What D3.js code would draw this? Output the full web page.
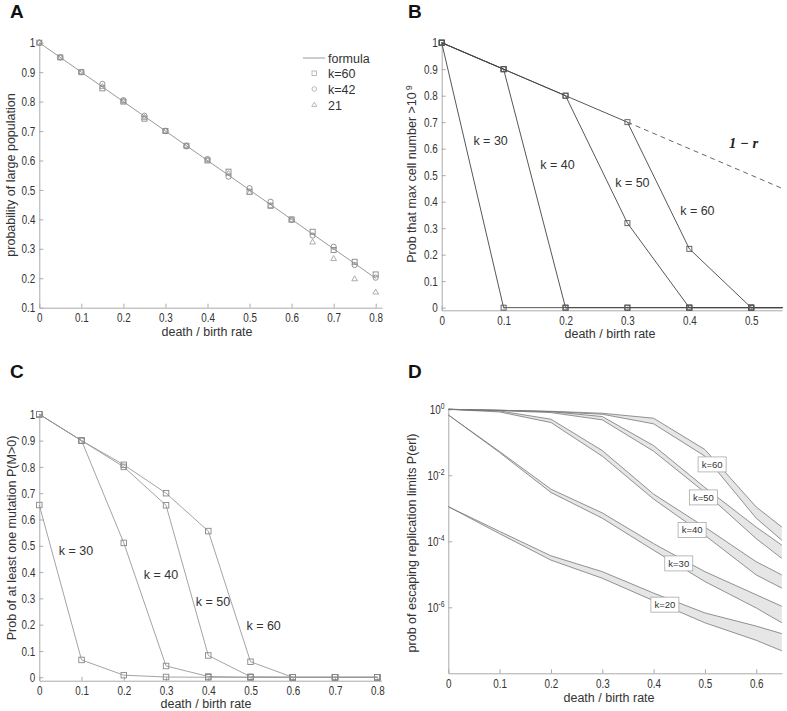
<!DOCTYPE html>
<html>
<head>
<meta charset="utf-8">
<script src="https://cdn.jsdelivr.net/npm/d3@7"></script>
<style>
body { margin: 0; background: #fff; }
svg text { font-family: "Liberation Sans", Arial, sans-serif; fill: #333; }
.axis path, .axis line { stroke: #aaa; }
.axis text { font-size: 13px; fill: #333; transform-box: fill-box; transform: scaleX(0.76); }
.xaxis text { transform-origin: 50% 50%; }
.yaxis text { transform-origin: 100% 50%; }
</style>
</head>
<body>
<div id="chart"></div>
<script>
// ---------- data ----------
// A: probability of large population vs death/birth rate
var rA = [0, 0.05, 0.1, 0.15, 0.2, 0.25, 0.3, 0.35, 0.4, 0.45, 0.5, 0.55, 0.6, 0.65, 0.7, 0.75, 0.8];
var formulaR = [0, 0.8];
var formulaP = [1, 0.2];
var k60A = [1, 0.95, 0.9, 0.845, 0.8, 0.742, 0.7, 0.65, 0.6, 0.562, 0.494, 0.446, 0.4, 0.358, 0.296, 0.256, 0.213];
var k42A = [1, 0.95, 0.9, 0.86, 0.805, 0.752, 0.7, 0.648, 0.605, 0.545, 0.506, 0.46, 0.398, 0.345, 0.307, 0.245, 0.202];
var k21A = [1, 0.95, 0.9, 0.85, 0.8, 0.745, 0.7, 0.65, 0.6, 0.555, 0.49, 0.446, 0.396, 0.322, 0.266, 0.197, 0.152];
var legendA = ["formula", "k=60", "k=42", "21"];

// B: prob that max cell number > 10^9
var rB = [0, 0.1, 0.2, 0.3, 0.4, 0.5, 0.6];
var seriesB = {
  "k = 30": [1, 0, 0, 0, 0, 0, 0],
  "k = 40": [1, 0.9, 0, 0, 0, 0, 0],
  "k = 50": [1, 0.9, 0.8, 0.319, 0, 0, 0],
  "k = 60": [1, 0.9, 0.8, 0.7, 0.222, 0, 0]
};
var formulaRB = [0.3, 0.55];
var formulaPB = [0.7, 0.45];
var labelsB = [["k = 30", 0.079, 0.629], ["k = 40", 0.187, 0.538], ["k = 50", 0.308, 0.471], ["k = 60", 0.413, 0.366]];

// C: prob of at least one mutation
var rC = [0, 0.1, 0.2, 0.3, 0.4, 0.5, 0.6, 0.7, 0.8];
var seriesC = {
  "k = 30": [0.655, 0.066, 0.008, 0.001, 0, 0, 0, 0, 0],
  "k = 40": [1, 0.9, 0.511, 0.043, 0.003, 0, 0, 0, 0],
  "k = 50": [1, 0.9, 0.8, 0.654, 0.083, 0.002, 0, 0, 0],
  "k = 60": [1, 0.9, 0.808, 0.7, 0.556, 0.059, 0, 0, 0]
};
var labelsC = [["k = 30", 0.087, 0.481], ["k = 40", 0.288, 0.389], ["k = 50", 0.411, 0.286], ["k = 60", 0.531, 0.196]];

// D: prob of escaping replication limits (log10 of upper / lower band edges)
var rD = [0, 0.1, 0.2, 0.3, 0.4, 0.5, 0.6, 0.65];
var bandsD = [
  {k: "k=60", hi: [0, -0.03, -0.06, -0.12, -0.27, -1.22, -2.96, -3.57], lo: [0, -0.03, -0.07, -0.15, -0.44, -1.42, -3.3, -3.97], at: [0.514, -1.67]},
  {k: "k=50", hi: [0, -0.03, -0.07, -0.22, -1.10, -2.37, -3.57, -4.12], lo: [0, -0.04, -0.1, -0.32, -1.27, -2.52, -3.92, -4.52], at: [0.497, -2.67]},
  {k: "k=40", hi: [0, -0.05, -0.30, -1.25, -2.57, -3.57, -4.62, -5.02], lo: [0, -0.08, -0.40, -1.42, -2.72, -3.82, -5.02, -5.42], at: [0.475, -3.66]},
  {k: "k=30", hi: [-0.17, -1.28, -2.42, -3.14, -4.07, -4.92, -5.62, -5.97], lo: [-0.17, -1.31, -2.52, -3.30, -4.27, -5.22, -6.02, -6.47], at: [0.449, -4.67]},
  {k: "k=20", hi: [-2.95, -3.70, -4.44, -4.92, -5.57, -6.17, -6.57, -6.80], lo: [-2.95, -3.77, -4.57, -5.12, -5.80, -6.47, -7.00, -7.32], at: [0.422, -5.92]}
];

var xTicks8 = [0, 0.1, 0.2, 0.3, 0.4, 0.5, 0.6, 0.7, 0.8];
var yTicksA = [0.1, 0.2, 0.3, 0.4, 0.5, 0.6, 0.7, 0.8, 0.9, 1];
var yTicks01 = [0, 0.1, 0.2, 0.3, 0.4, 0.5, 0.6, 0.7, 0.8, 0.9, 1];
var xTicksB = [0, 0.1, 0.2, 0.3, 0.4, 0.5];
var xTicksD = [0, 0.1, 0.2, 0.3, 0.4, 0.5, 0.6];
var yTicksD = [1, 1e-2, 1e-4, 1e-6];

// ---------- svg ----------
var svg = d3.select("#chart").append("svg")
  .attr("width", 787)
  .attr("height", 711);

var fmt = d => String(+d.toFixed(2));

function drawAxes(x, y, xt, yt, yf) {
  var y0 = y.range()[0], x0 = x.range()[0];
  svg.append("g")
    .attr("class", "axis xaxis")
    .attr("transform", `translate(0, ${y0})`)
    .call(d3.axisBottom(x).tickValues(xt).tickFormat(fmt).tickSizeInner(-4).tickSizeOuter(0).tickPadding(5));
  var ya = svg.append("g")
    .attr("class", "axis yaxis")
    .attr("transform", `translate(${x0}, 0)`)
    .call(d3.axisLeft(y).tickValues(yt).tickFormat(yf || fmt).tickSizeInner(-4).tickSizeOuter(0).tickPadding(4));
  return ya;
}

function title(t, x, y) {
  svg.append("text").attr("x", x).attr("y", y)
    .style("font-size", "19px").style("font-weight", "bold").style("fill", "#111")
    .text(t);
}

function xLabel(t, x, y) {
  svg.append("text").attr("x", x).attr("y", y)
    .attr("text-anchor", "middle").style("font-size", "12.5px")
    .text(t);
}

function yLabel(t, x, y) {
  return svg.append("text")
    .attr("transform", `translate(${x}, ${y}) rotate(-90)`)
    .attr("text-anchor", "middle").style("font-size", "12.5px")
    .text(t);
}

function squares(g, x, y, xs, ys, color, size) {
  g.selectAll(null)
    .data(xs.map((r, i) => [r, ys[i]]))
    .enter()
    .append("rect")
    .attr("x", d => x(d[0]) - size / 2)
    .attr("y", d => y(d[1]) - size / 2)
    .attr("width", size)
    .attr("height", size)
    .attr("fill", "none")
    .attr("stroke", color)
    .attr("stroke-width", 0.9);
}

// ---------- Panel A ----------
var xA = d3.scaleLinear().domain([0, 0.815]).range([39.3, 382]);
var yA = d3.scaleLinear().domain([0.1, 1]).range([307.7, 42.7]);
drawAxes(xA, yA, xTicks8, yTicksA);

var gA = svg.append("g");
gA.append("path")
  .datum(formulaR.map((r, i) => [r, formulaP[i]]))
  .attr("d", d3.line().x(d => xA(d[0])).y(d => yA(d[1])))
  .attr("fill", "none").attr("stroke", "#999").attr("stroke-width", 1);

squares(gA, xA, yA, rA, k60A, "#888", 5);
gA.selectAll(null)
  .data(rA.map((r, i) => [r, k42A[i]]))
  .enter().append("circle")
  .attr("cx", d => xA(d[0])).attr("cy", d => yA(d[1])).attr("r", 2.6)
  .attr("fill", "none").attr("stroke", "#888").attr("stroke-width", 0.9);
var tri = d3.symbol().type(d3.symbolTriangle).size(14);
gA.selectAll(null)
  .data(rA.map((r, i) => [r, k21A[i]]))
  .enter().append("path")
  .attr("d", tri)
  .attr("transform", d => `translate(${xA(d[0])}, ${yA(d[1])})`)
  .attr("fill", "none").attr("stroke", "#999").attr("stroke-width", 0.8);

// legend
var leg = svg.append("g").attr("transform", "translate(303, 58)");
leg.append("line").attr("x1", 0).attr("x2", 22).attr("y1", 0).attr("y2", 0).attr("stroke", "#999");
leg.append("rect").attr("x", 9).attr("y", 13).attr("width", 4.5).attr("height", 4.5).attr("fill", "none").attr("stroke", "#aaa").attr("stroke-width", 0.8);
leg.append("circle").attr("cx", 11.3).attr("cy", 31).attr("r", 2.3).attr("fill", "none").attr("stroke", "#aaa").attr("stroke-width", 0.8);
leg.append("path").attr("d", d3.symbol().type(d3.symbolTriangle).size(11)).attr("transform", "translate(11.3, 47)").attr("fill", "none").attr("stroke", "#aaa").attr("stroke-width", 0.8);
leg.selectAll(null).data(legendA).enter().append("text")
  .attr("x", 25).attr("y", (d, i) => i * 15.7 + 4.5)
  .style("font-size", "12.5px")
  .text(d => d);

title("A", 10, 18);
xLabel("death / birth rate", 207, 336);
yLabel("probability of large population", 15, 175);

// ---------- Panel B ----------
var xB = d3.scaleLinear().domain([0, 0.55]).range([441.7, 782.2]);
var yB = d3.scaleLinear().domain([-0.01, 1]).range([310.3, 42.7]);
drawAxes(xB, yB, xTicksB, yTicks01);

svg.append("clipPath").attr("id", "clipB").append("rect")
  .attr("x", 438).attr("y", 36).attr("width", 344.5).attr("height", 280);
var gB = svg.append("g").attr("clip-path", "url(#clipB)");
var lineB = d3.line().x(d => xB(d[0])).y(d => yB(d[1]));
Object.keys(seriesB).forEach(function(k) {
  var pts = rB.map((r, i) => [r, seriesB[k][i]]);
  gB.append("path").datum(pts).attr("d", lineB)
    .attr("fill", "none").attr("stroke", "#444").attr("stroke-width", 0.9);
  squares(gB, xB, yB, rB.filter(r => r <= 0.5), seriesB[k], "#555", 5);
});
gB.append("path")
  .datum(formulaRB.map((r, i) => [r, formulaPB[i]]))
  .attr("d", lineB)
  .attr("fill", "none").attr("stroke", "#555").attr("stroke-width", 0.9).attr("stroke-dasharray", "5,4");

svg.selectAll(null).data(labelsB).enter().append("text")
  .attr("x", d => xB(d[1])).attr("y", d => yB(d[2]))
  .attr("dy", "0.35em").attr("text-anchor", "middle")
  .style("font-size", "12.5px")
  .text(d => d[0]);
svg.append("text")
  .attr("x", xB(0.4876)).attr("y", yB(0.623)).attr("dy", "0.35em")
  .attr("text-anchor", "middle")
  .style("font-family", "'Liberation Serif', 'Times New Roman', serif")
  .style("font-size", "14.5px").style("font-weight", "bold").style("font-style", "italic").style("fill", "#222")
  .text("1 − r");

title("B", 408, 18);
xLabel("death / birth rate", 610, 338);
var ylB = yLabel("Prob that max cell number >10", 416, 174);
ylB.append("tspan").attr("dy", "-0.5em").attr("dx", "2").style("font-size", "9px").text("9");

// ---------- Panel C ----------
var xC = d3.scaleLinear().domain([0, 0.81]).range([39.3, 381.5]);
var yC = d3.scaleLinear().domain([-0.013, 1]).range([680.7, 414.3]);
drawAxes(xC, yC, xTicks8, yTicks01);

var gC = svg.append("g");
var lineC = d3.line().x(d => xC(d[0])).y(d => yC(d[1]));
Object.keys(seriesC).forEach(function(k) {
  var pts = rC.map((r, i) => [r, seriesC[k][i]]);
  gC.append("path").datum(pts).attr("d", lineC)
    .attr("fill", "none").attr("stroke", "#999").attr("stroke-width", 0.9);
  squares(gC, xC, yC, rC, seriesC[k], "#888", 5.5);
});
svg.selectAll(null).data(labelsC).enter().append("text")
  .attr("x", d => xC(d[1])).attr("y", d => yC(d[2]))
  .attr("dy", "0.35em").attr("text-anchor", "middle")
  .style("font-size", "12.5px")
  .text(d => d[0]);

title("C", 10, 378);
xLabel("death / birth rate", 206, 708);
yLabel("Prob of at least one mutation  P(M>0)", 16, 538);

// ---------- Panel D ----------
var xD = d3.scaleLinear().domain([0, 0.65]).range([448.3, 781.9]);
var yD = d3.scaleLog().domain([1e-8, 1]).range([673.3, 409.3]);
var yaD = drawAxes(xD, yD, xTicksD, yTicksD, () => "10");
yaD.selectAll(".tick text")
  .append("tspan")
  .attr("dy", "-0.55em")
  .style("font-size", "9px")
  .text(d => String(Math.round(Math.log10(d))));

svg.append("clipPath").attr("id", "clipD").append("rect")
  .attr("x", 448.3).attr("y", 400).attr("width", 333.6).attr("height", 273.3);
var gD = svg.append("g").attr("clip-path", "url(#clipD)");
var p10 = e => Math.pow(10, e);
bandsD.slice().reverse().forEach(function(b) {
  var pts = rD.map((r, i) => ({r: r, hi: p10(b.hi[i]), lo: p10(b.lo[i])}));
  gD.append("path").datum(pts)
    .attr("d", d3.area().x(d => xD(d.r)).y0(d => yD(d.lo)).y1(d => yD(d.hi)))
    .attr("fill", "#e6e6e6");
  ["hi", "lo"].forEach(function(s) {
    gD.append("path").datum(pts)
      .attr("d", d3.line().x(d => xD(d.r)).y(d => yD(d[s])))
      .attr("fill", "none").attr("stroke", "#777").attr("stroke-width", 0.8);
  });
});

var labD = svg.selectAll(null).data(bandsD).enter().append("g")
  .attr("transform", d => `translate(${xD(d.at[0])}, ${yD(p10(d.at[1]))})`);
labD.append("rect")
  .attr("x", -14).attr("y", -7.5).attr("width", 28).attr("height", 15)
  .attr("fill", "#fff").attr("stroke", "#aaa").attr("stroke-width", 0.8);
labD.append("text")
  .attr("text-anchor", "middle").attr("dy", "0.35em")
  .style("font-size", "9.5px")
  .text(d => d.k);

title("D", 408, 378);
xLabel("death / birth rate", 609, 701.5);
yLabel("prob of escaping replication limits  P(erl)", 416, 543);
</script>
</body>
</html>
